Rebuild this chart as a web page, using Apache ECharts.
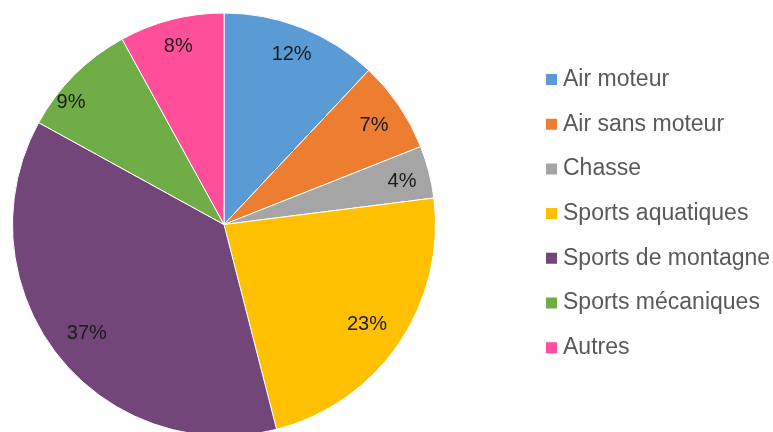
<!DOCTYPE html>
<html><head><meta charset="utf-8">
<script src="https://cdn.jsdelivr.net/npm/echarts@6/dist/echarts.min.js"></script>
<style>html,body{margin:0;padding:0;background:#fff}#c{width:773px;height:432px}</style>
</head><body><div id="c"></div>
<script>
const categories = ['Air moteur','Air sans moteur','Chasse','Sports aquatiques','Sports de montagne','Sports mécaniques','Autres'];
const values = [12, 7, 4, 23, 37, 9, 8];
const colors = ['#5B9BD5','#ED7D31','#A5A5A5','#FFC000','#73467A','#70AD47','#FF4F9A'];
// small label nudges mimicking the original best-fit placement (style only)
const labelNudge = [[0,1],[-2,4],[0,3],[-9,-3],[8,-4],[-23,8],[0,0]];

const data = categories.map((n,i)=>({name:n, value:values[i], itemStyle:{color:colors[i]}}));
const chart = echarts.init(document.getElementById('c'));
chart.setOption({
  animation:false,
  legend:{
    orient:'vertical', left:539, top:62.5, itemWidth:13, itemHeight:13, itemGap:20.7,
    icon:'rect',
    textStyle:{fontFamily:'Liberation Sans', fontSize:23, color:'#595959', lineHeight:24},
    data:categories
  },
  series:[
    {type:'pie', center:[224,224.5], radius:[0,211.5], startAngle:90, clockwise:true,
     data:data, label:{show:false}, labelLine:{show:false},
     itemStyle:{borderColor:'#fff', borderWidth:1}, silent:true},
    {type:'pie', center:[224,224.5], radius:[150,211.5], startAngle:90, clockwise:true,
     data:categories.map((n,i)=>({name:n, value:values[i], label:{offset:labelNudge[i]}})), silent:true,
     itemStyle:{color:'rgba(0,0,0,0)'}, legendHoverLink:false,
     label:{show:true, position:'inside', formatter:'{c}%', fontFamily:'Liberation Sans', fontSize:20, color:'#1a1a1a'},
     labelLine:{show:false}}
  ]
});
</script></body></html>
